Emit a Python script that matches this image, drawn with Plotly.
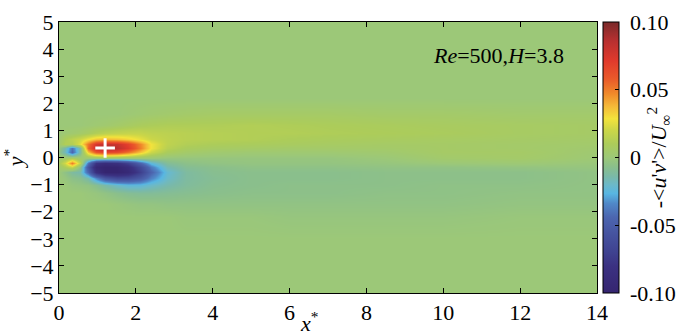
import plotly.graph_objects as go

# grid coordinates
x_vals = [0, 0.15, 0.35, 0.55, 0.75, 0.95, 1.2, 1.5, 1.8, 2.1, 2.4, 2.8, 3.3, 4, 5, 6, 7, 8.5, 10, 12, 14]
y_vals = [-5, -3, -2.2, -1.7, -1.3, -1.0, -0.75, -0.55, -0.35, -0.2, 0, 0.2, 0.35, 0.5, 0.7, 0.9, 1.2, 1.6, 2.2, 3, 5]

# -<u'v'>/U^2, rows follow y_vals, columns follow x_vals
row_ym5 = [0] * 21
row_ym3 = [0] * 21
row_ym22 = [0, 0, 0, 0, 0, 0, 0, 0, 0, 0, 0, 0, -0.001, -0.001, -0.001, -0.002, -0.002, -0.002, -0.002, -0.001, -0.001]
row_ym17 = [0, 0, 0, 0, 0, 0, 0, -0.001, -0.002, -0.003, -0.003, -0.004, -0.004, -0.004, -0.004, -0.004, -0.004, -0.004, -0.004, -0.003, -0.003]
row_ym13 = [0, 0, 0, 0, -0.001, -0.002, -0.004, -0.007, -0.009, -0.010, -0.010, -0.009, -0.008, -0.007, -0.006, -0.006, -0.006, -0.005, -0.005, -0.004, -0.004]
row_ym10 = [0, 0, -0.002, -0.003, -0.004, -0.008, -0.014, -0.020, -0.024, -0.024, -0.020, -0.015, -0.011, -0.008, -0.007, -0.006, -0.006, -0.006, -0.005, -0.005, -0.004]
row_ym075 = [0, -0.002, -0.006, -0.008, -0.015, -0.035, -0.055, -0.065, -0.063, -0.053, -0.036, -0.020, -0.012, -0.009, -0.007, -0.007, -0.007, -0.006, -0.006, -0.006, -0.004]
row_ym055 = [0, -0.005, -0.012, -0.015, -0.045, -0.085, -0.100, -0.100, -0.093, -0.072, -0.046, -0.022, -0.012, -0.008, -0.007, -0.007, -0.007, -0.006, -0.006, -0.006, -0.004]
row_ym035 = [0.003, 0.010, 0.018, -0.005, -0.055, -0.095, -0.100, -0.099, -0.088, -0.065, -0.038, -0.016, -0.009, -0.007, -0.005, -0.005, -0.005, -0.004, -0.004, -0.003, -0.002]
row_ym02 = [0.008, 0.022, 0.050, 0.015, -0.040, -0.080, -0.088, -0.083, -0.070, -0.046, -0.024, -0.010, -0.006, -0.004, -0.003, -0.003, -0.003, -0.002, 0.0, 0.001, -0.001]
row_y0 = [0.002, 0.005, 0.010, 0.003, 0.0, 0.0, 0.0, 0.0, 0.0, 0.0, 0.0, -0.002, -0.002, -0.002, -0.002, -0.002, -0.002, 0.0, 0.004, 0.005, 0.001]
row_y02 = [-0.005, -0.018, -0.045, -0.012, 0.035, 0.060, 0.068, 0.064, 0.052, 0.036, 0.020, 0.009, 0.005, 0.003, 0.002, 0.002, 0.002, 0.003, 0.006, 0.006, 0.002]
row_y035 = [-0.002, -0.015, -0.040, -0.012, 0.055, 0.082, 0.090, 0.085, 0.072, 0.050, 0.028, 0.014, 0.009, 0.007, 0.006, 0.005, 0.005, 0.005, 0.006, 0.005, 0.003]
row_y05 = [0.003, 0.012, 0.012, 0.025, 0.052, 0.075, 0.082, 0.080, 0.068, 0.048, 0.028, 0.016, 0.012, 0.010, 0.009, 0.008, 0.007, 0.006, 0.006, 0.005, 0.004]
row_y07 = [0.002, 0.010, 0.015, 0.020, 0.028, 0.035, 0.038, 0.036, 0.032, 0.026, 0.020, 0.016, 0.014, 0.013, 0.012, 0.010, 0.009, 0.008, 0.007, 0.006, 0.005]
row_y09 = [0, 0.002, 0.003, 0.005, 0.008, 0.012, 0.015, 0.017, 0.018, 0.018, 0.016, 0.015, 0.014, 0.013, 0.012, 0.012, 0.011, 0.010, 0.009, 0.007, 0.006]
row_y12 = [0, 0, 0, 0, 0.001, 0.002, 0.003, 0.005, 0.007, 0.009, 0.010, 0.011, 0.011, 0.011, 0.012, 0.011, 0.010, 0.009, 0.008, 0.007, 0.006]
row_y16 = [0, 0, 0, 0, 0, 0, 0, 0, 0.001, 0.002, 0.003, 0.004, 0.005, 0.006, 0.006, 0.006, 0.006, 0.005, 0.005, 0.004, 0.004]
row_y22 = [0] * 21
row_y3 = [0] * 21
row_y5 = [0] * 21

z_rows = [row_ym5, row_ym3, row_ym22, row_ym17, row_ym13, row_ym10, row_ym075, row_ym055,
          row_ym035, row_ym02, row_y0, row_y02, row_y035, row_y05, row_y07, row_y09,
          row_y12, row_y16, row_y22, row_y3, row_y5]

# marker position (white cross)
cross_x = [1.2]
cross_y = [0.35]

x_tickvals = [0, 2, 4, 6, 8, 10, 12, 14]
y_tickvals = [-5, -4, -3, -2, -1, 0, 1, 2, 3, 4, 5]
cb_tickvals = [0.10, 0.05, 0, -0.05, -0.10]
cb_ticktext = ["\u00a00.10", "\u00a00.05", "\u00a00", "\u00a0-0.05", "\u00a0-0.10"]

colorscale = [
    [0.00, "#352570"],
    [0.10, "#3b3282"],
    [0.15, "#3f4290"],
    [0.22, "#4654a0"],
    [0.28, "#4c66b0"],
    [0.33, "#5088c8"],
    [0.367, "#58b6e2"],
    [0.40, "#6cb9c8"],
    [0.43, "#7ab9a8"],
    [0.465, "#8abf8c"],
    [0.50, "#9cc878"],
    [0.55, "#accc5a"],
    [0.60, "#cbd648"],
    [0.643, "#f3e33c"],
    [0.69, "#f5b838"],
    [0.735, "#f08a2a"],
    [0.79, "#ea5a2a"],
    [0.857, "#e03a2c"],
    [0.93, "#b83030"],
    [1.00, "#7a2a2a"],
]

FONT = "Liberation Serif"
FS = 22

fig = go.Figure()
fig.add_trace(go.Contour(
    x=x_vals, y=y_vals, z=z_rows,
    colorscale=colorscale, zmin=-0.1, zmax=0.1,
    contours=dict(start=-0.0975, end=0.0975, size=0.005, coloring="heatmap", showlines=False),
    line=dict(width=0),
    colorbar=dict(
        x=1.011, xanchor="left", xpad=0, y=0.5, yanchor="middle", len=1, lenmode="fraction",
        thickness=16, ypad=0, outlinecolor="black", outlinewidth=1,
        tickvals=cb_tickvals, ticktext=cb_ticktext, ticks="inside", ticklen=4, tickcolor="black",
        ticklabeloverflow="allow",
        tickfont=dict(family=FONT, size=FS, color="black"),
        title=dict(text="-&lt;<i>u</i>'<i>v</i>'&gt;/<i>U</i><sub>∞</sub><sup>2</sup>",
                   side="right", font=dict(family=FONT, size=FS, color="black")),
    ),
))
fig.add_trace(go.Scatter(
    x=cross_x, y=cross_y, mode="markers",
    marker=dict(symbol="cross-thin", size=14, line=dict(color="white", width=3)),
    showlegend=False, hoverinfo="skip",
))

fig.add_annotation(x=13.2, y=3.78, xanchor="right", yanchor="middle", showarrow=False,
                   text="<i>Re</i>=500,<i>H</i>=3.8", font=dict(family=FONT, size=FS, color="black"))
fig.add_annotation(x=6.5, y=0, xref="x", yref="paper", xanchor="center", yanchor="top",
                   showarrow=False, yshift=-13,
                   text="<i>x</i><sup>*</sup>", font=dict(family=FONT, size=FS, color="black"))

axis_common = dict(showline=True, linecolor="black", linewidth=1, mirror="ticks",
                   ticks="inside", ticklen=5, tickcolor="black", showgrid=False, zeroline=False,
                   ticklabeloverflow="allow",
                   tickfont=dict(family=FONT, size=FS, color="black"))
fig.update_xaxes(range=[0, 14], tickvals=x_tickvals, **axis_common)
fig.update_yaxes(range=[-5, 5], tickvals=y_tickvals,
                 title=dict(text="<i>y</i><sup>*</sup>", font=dict(family=FONT, size=FS, color="black"), standoff=4),
                 **axis_common)

fig.update_layout(width=700, height=335, margin=dict(l=59, r=103, t=10, b=39),
                  paper_bgcolor="white", plot_bgcolor="#9cc878", showlegend=False)
fig.write_html("out.html", config={"displayModeBar": False},
               post_script="document.body.style.margin='0';")
